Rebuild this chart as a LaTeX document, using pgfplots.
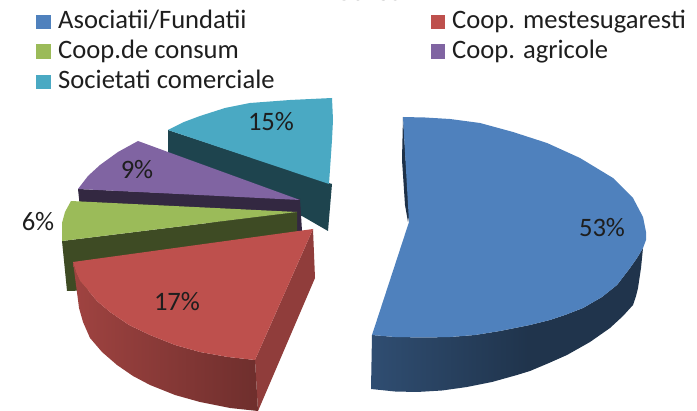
\documentclass[border=0pt]{standalone}
\usepackage{pgfplots}
\pgfplotsset{compat=1.18}
\usepackage{fontspec}
\setmainfont{Carlito}
\definecolor{cblue}{HTML}{4F81BD}
\definecolor{cred}{HTML}{BE504D}
\definecolor{cgreen}{HTML}{9BBB59}
\definecolor{cpurple}{HTML}{8064A2}
\definecolor{cteal}{HTML}{4AA9C3}
\definecolor{ctxt}{HTML}{1E1E1E}
\begin{document}
\begin{tikzpicture}
\path[use as bounding box] (0,0) rectangle (697pt,411pt);
\begin{axis}[
  at={(0,0)}, anchor=south west,
  width=697pt, height=411pt, scale only axis,
  xmin=0, xmax=697, ymin=0, ymax=411, y dir=reverse,
  axis lines=none, clip=false,
  nodes={text=ctxt, font=\fontsize{26.6}{32}\selectfont},
]
% teal slice, 15%
\addplot[fill=cteal!40!black,draw=none] coordinates {(168,130)(332,184)(328,231)(302,216)(296,215)(168,160)} -- cycle;
\addplot[fill=cteal,draw=none] coordinates {(168,130)(184,122)(200,116)(225,108)(250,103)(290,100)(332,98)(333,120)(332,140)(329,184)} -- cycle;
% purple slice, 9%
\addplot[fill=cpurple!40!black,draw=none] coordinates {(78,189)(300,199)(302,231)(296,232)(80,208)} -- cycle;
\addplot[fill=cpurple,draw=none] coordinates {(78,189)(88,176)(100,165)(118,152)(138,141)(168,152)(300,200)} -- cycle;
% green slice, 6%
\addplot[fill=cgreen!40!black,draw=none] coordinates {(62,241)(297,212)(297,234)(100,290)(67,291)} -- cycle;
\addplot[fill=cgreen,draw=none] coordinates {(71,201)(65,212)(62,223)(62,241)(297,212)} -- cycle;
% red slice, 17%
\addplot[fill=cred!76!black,draw=none] coordinates {(313,229)(315,278)(258,411)(255,360)} -- cycle;
\addplot[left color=cred!84!black,right color=cred!58!black,draw=none] coordinates {(73,262)(76,272)(80,281)(87,289)(97,301)(110,312)(129,325)(150,335)(175,345)(200,352)(228,357)(255,360)(258,411)(230,408)(200,402)(175,395)(150,385)(133,376)(117,365)(102,352)(90,338)(83,322)(79,308)(78,300)} -- cycle;
\addplot[fill=cred,draw=none] coordinates {(73,262)(313,229)(255,360)(228,357)(200,352)(175,345)(150,335)(129,325)(110,312)(97,301)(87,289)(80,281)(76,272)} -- cycle;
% blue slice, 53%
\addplot[fill=cblue!38!black,draw=none] coordinates {(403,117)(402,160)(405,205)(408,222)(411,205)(406,165)} -- cycle;
\addplot[fill=cblue!40!black,draw=none] coordinates {(530,325)(550,320)(565,315)(583,308)(602,297)(617,285)(630,268)(637,258)(643,248)(641,268)(638,288)(636,296)(633,305)(623,316)(610,328)(590,342)(567,355)(549,363)(530,371)} -- cycle;
\addplot[left color=cblue!60!black,right color=cblue!40!black,draw=none] coordinates {(372,335)(395,337)(425,337.5)(450,337)(475,335)(500,331)(530,325)(530,371)(517,375)(492,382)(467,387)(442,390.5)(417,392)(395,391.5)(371,389)} -- cycle;
\addplot[fill=cblue,draw=none] coordinates {(403,117)(425,117.5)(450,119)(480,123)(513,132)(547,143)(580,158)(613,178)(633,198)(643,217)(646,232)(646,240)(643,248)(637,258)(630,268)(617,285)(602,297)(583,308)(565,315)(550,320)(530,325)(500,331)(475,335)(450,337)(425,337.5)(395,337)(372,335)(409,222)} -- cycle;
% legend keys
\addplot[fill=cblue,draw=none] coordinates {(36,15)(51,15)(51,29)(36,29)} -- cycle;
\addplot[fill=cred,draw=none] coordinates {(431,15)(445,15)(445,29)(431,29)} -- cycle;
\addplot[fill=cgreen,draw=none] coordinates {(36,44)(51,44)(51,59)(36,59)} -- cycle;
\addplot[fill=cpurple,draw=none] coordinates {(431,44)(445,44)(445,59)(431,59)} -- cycle;
\addplot[fill=cteal,draw=none] coordinates {(36,75)(51,75)(51,89)(36,89)} -- cycle;
% legend text
\node[anchor=base west,inner sep=0pt] at (axis cs:58,29) {Asociatii/Fundatii};
\node[anchor=base west,inner sep=0pt] at (axis cs:452,29) {Coop. mestesugaresti};
\node[anchor=base west,inner sep=0pt] at (axis cs:58,59) {Coop.de consum};
\node[anchor=base west,inner sep=0pt] at (axis cs:452,59) {Coop. agricole};
\node[anchor=base west,inner sep=0pt] at (axis cs:58,89) {Societati comerciale};
% data labels
\node[inner sep=0pt] at (axis cs:602,228) {53\%};
\node[inner sep=0pt] at (axis cs:177,302) {17\%};
\node[inner sep=0pt] at (axis cs:38,222) {6\%};
\node[inner sep=0pt] at (axis cs:137,170) {9\%};
\node[inner sep=0pt] at (axis cs:271,122) {15\%};
% clipped title
\node[anchor=base,inner sep=0pt,font=\bfseries\fontsize{30}{36}\selectfont,text=black!70] at (axis cs:371,0.5) {Sursa};
\end{axis}
\end{tikzpicture}
\end{document}
